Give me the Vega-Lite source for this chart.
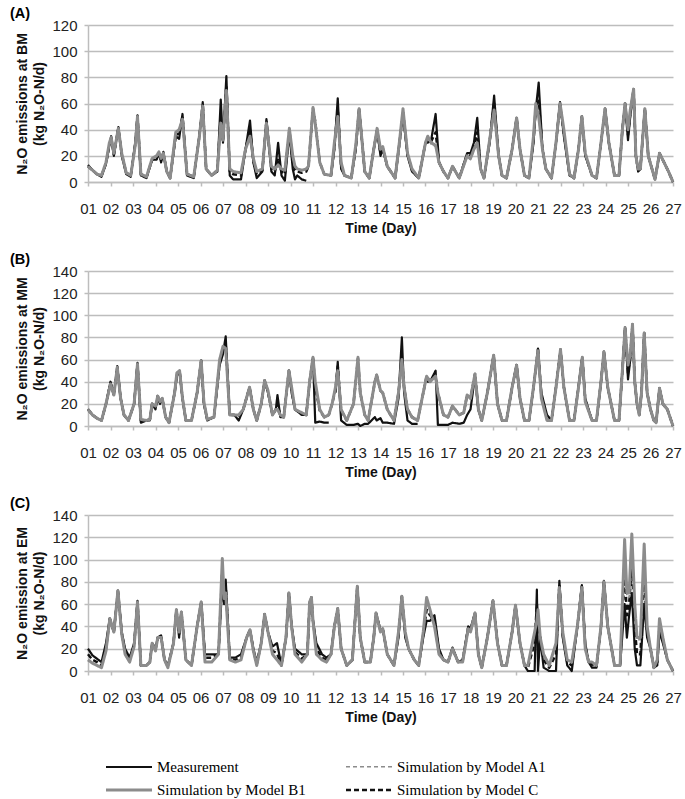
{
  "$schema": "https://vega.github.io/schema/vega-lite/v6.json",
  "background": "white",
  "padding": {"left": 9, "top": 5, "right": 5, "bottom": 5},
  "spacing": 16,
  "config": {
    "font": "Liberation Sans",
    "view": {"stroke": null},
    "title": {"anchor": "start", "frame": "bounds", "fontSize": 14.5, "fontWeight": "bold", "font": "Liberation Sans", "color": "#000", "offset": -3, "dx": -6},
    "axis": {"labelFont": "Liberation Sans", "labelFontSize": 15, "labelColor": "#222", "titleFont": "Liberation Sans", "titleFontSize": 14, "titleFontWeight": "bold", "titleColor": "#111", "gridColor": "#bdbdbd", "gridWidth": 1.5, "domainColor": "#bdbdbd", "domainWidth": 1.5, "tickColor": "#bdbdbd", "tickWidth": 1.5},
    "axisX": {"grid": false, "tickSize": 4, "labelPadding": 15, "titlePadding": 5, "labelAngle": 0, "labelOverlap": false, "labelFlush": false},
    "axisY": {"grid": true, "tickSize": 4, "labelPadding": 7, "titlePadding": 5, "titleLineHeight": 17},
    "legend": {"orient": "none", "legendX": 28, "legendY": 729, "columns": 2, "columnPadding": 35, "rowPadding": 2, "labelOffset": 15, "symbolType": "M-2,0H2", "symbolSize": 529, "labelFont": "Liberation Serif", "labelFontSize": 15, "labelColor": "#000", "title": null}
  },
  "datasets": {
    "A": [
      {"t":1.0,"M":13,"A1":12,"B1":12,"C":12},{"t":1.2,"M":9,"A1":9,"B1":9,"C":9},{"t":1.4,"M":6,"A1":6,"B1":6,"C":6},{"t":1.6,"M":4,"A1":5,"B1":5,"C":5},{"t":1.8,"M":14,"A1":15,"B1":15,"C":14},{"t":1.95,"M":28,"A1":29,"B1":30,"C":28},{"t":2.03,"M":35,"A1":33,"B1":34,"C":34},{"t":2.15,"M":20,"A1":21,"B1":22,"C":21},{"t":2.35,"M":42,"A1":40,"B1":41,"C":41},{"t":2.5,"M":20,"A1":21,"B1":22,"C":21},{"t":2.7,"M":6,"A1":7,"B1":7,"C":7},{"t":2.9,"M":4,"A1":5,"B1":5,"C":5},
      {"t":3.1,"M":30,"A1":27,"B1":28,"C":29},{"t":3.2,"M":51,"A1":49,"B1":50,"C":50},{"t":3.35,"M":5,"A1":6,"B1":6,"C":6},{"t":3.6,"M":3,"A1":4,"B1":4,"C":4},{"t":3.85,"M":17,"A1":17,"B1":18,"C":17},{"t":4.05,"M":17,"A1":19,"B1":20,"C":19},{"t":4.15,"M":22,"A1":22,"B1":23,"C":22},{"t":4.25,"M":15,"A1":17,"B1":18,"C":17},{"t":4.35,"M":23,"A1":21,"B1":22,"C":22},{"t":4.5,"M":8,"A1":8,"B1":8,"C":8},{"t":4.65,"M":3,"A1":3,"B1":3,"C":3},
      {"t":4.9,"M":35,"A1":37,"B1":38,"C":36},{"t":5.05,"M":33,"A1":39,"B1":40,"C":37},{"t":5.2,"M":52,"A1":47,"B1":48,"C":50},{"t":5.4,"M":5,"A1":6,"B1":6,"C":6},{"t":5.7,"M":3,"A1":4,"B1":4,"C":4},{"t":5.95,"M":35,"A1":34,"B1":35,"C":35},{"t":6.1,"M":61,"A1":56,"B1":58,"C":59},{"t":6.25,"M":10,"A1":10,"B1":10,"C":10},{"t":6.5,"M":5,"A1":5,"B1":5,"C":5},{"t":6.75,"M":8,"A1":9,"B1":9,"C":9},
      {"t":6.9,"M":63,"A1":44,"B1":45,"C":50},{"t":7.0,"M":30,"A1":31,"B1":32,"C":31},{"t":7.15,"M":81,"A1":68,"B1":70,"C":74},{"t":7.3,"M":5,"A1":10,"B1":10,"C":8},{"t":7.45,"M":2,"A1":8,"B1":8,"C":6},{"t":7.8,"M":2,"A1":7,"B1":7,"C":5},{"t":8.0,"M":25,"A1":24,"B1":25,"C":25},{"t":8.2,"M":47,"A1":34,"B1":35,"C":40},{"t":8.35,"M":15,"A1":17,"B1":18,"C":16},{"t":8.5,"M":3,"A1":8,"B1":8,"C":6},
      {"t":8.75,"M":8,"A1":10,"B1":10,"C":9},{"t":8.93,"M":48,"A1":44,"B1":45,"C":46},{"t":9.15,"M":8,"A1":12,"B1":12,"C":10},{"t":9.3,"M":5,"A1":10,"B1":10,"C":8},{"t":9.45,"M":30,"A1":13,"B1":13,"C":18},{"t":9.6,"M":5,"A1":10,"B1":10,"C":8},{"t":9.75,"M":1,"A1":9,"B1":9,"C":6},{"t":9.95,"M":38,"A1":40,"B1":41,"C":40},{"t":10.1,"M":10,"A1":19,"B1":20,"C":15},{"t":10.2,"M":2,"A1":12,"B1":12,"C":9},{"t":10.3,"M":5,"A1":10,"B1":10,"C":8},{"t":10.5,"M":2,"A1":9,"B1":9,"C":7},{"t":10.7,"M":1,"A1":10,"B1":10,"C":8},
      {"t":10.8,"M":null,"A1":12,"B1":12,"C":12},{"t":11.0,"M":null,"A1":55,"B1":57,"C":56},{"t":11.1,"M":null,"A1":44,"B1":45,"C":46},{"t":11.3,"M":null,"A1":15,"B1":15,"C":15},{"t":11.5,"M":null,"A1":6,"B1":6,"C":6},{"t":11.8,"M":5,"A1":5,"B1":5,"C":5},{"t":11.95,"M":25,"A1":29,"B1":30,"C":27},{"t":12.1,"M":64,"A1":49,"B1":50,"C":56},{"t":12.25,"M":10,"A1":15,"B1":15,"C":12},{"t":12.4,"M":5,"A1":5,"B1":5,"C":5},{"t":12.7,"M":3,"A1":3,"B1":3,"C":3},
      {"t":12.9,"M":25,"A1":27,"B1":28,"C":26},{"t":13.05,"M":56,"A1":54,"B1":56,"C":56},{"t":13.3,"M":8,"A1":8,"B1":8,"C":8},{"t":13.5,"M":3,"A1":3,"B1":3,"C":3},{"t":13.7,"M":25,"A1":24,"B1":25,"C":25},{"t":13.85,"M":40,"A1":40,"B1":41,"C":40},{"t":14.0,"M":20,"A1":24,"B1":25,"C":22},{"t":14.1,"M":25,"A1":26,"B1":27,"C":26},{"t":14.3,"M":12,"A1":12,"B1":12,"C":12},{"t":14.65,"M":3,"A1":3,"B1":3,"C":3},
      {"t":14.85,"M":30,"A1":31,"B1":32,"C":31},{"t":15.0,"M":52,"A1":54,"B1":56,"C":54},{"t":15.2,"M":20,"A1":21,"B1":22,"C":21},{"t":15.4,"M":8,"A1":10,"B1":10,"C":9},{"t":15.7,"M":3,"A1":3,"B1":3,"C":3},{"t":16.0,"M":30,"A1":29,"B1":30,"C":30},{"t":16.1,"M":30,"A1":34,"B1":35,"C":32},{"t":16.25,"M":32,"A1":29,"B1":30,"C":31},{"t":16.45,"M":52,"A1":27,"B1":28,"C":38},{"t":16.6,"M":15,"A1":15,"B1":15,"C":15},{"t":16.8,"M":8,"A1":8,"B1":8,"C":8},
      {"t":17.0,"M":3,"A1":3,"B1":3,"C":3},{"t":17.2,"M":12,"A1":11,"B1":12,"C":12},{"t":17.5,"M":3,"A1":3,"B1":3,"C":3},{"t":17.85,"M":22,"A1":19,"B1":20,"C":21},{"t":18.0,"M":22,"A1":17,"B1":18,"C":20},{"t":18.15,"M":30,"A1":24,"B1":25,"C":27},{"t":18.3,"M":49,"A1":29,"B1":30,"C":38},{"t":18.45,"M":10,"A1":10,"B1":10,"C":10},{"t":18.6,"M":3,"A1":3,"B1":3,"C":3},
      {"t":18.85,"M":30,"A1":31,"B1":32,"C":31},{"t":19.05,"M":66,"A1":53,"B1":55,"C":60},{"t":19.25,"M":20,"A1":20,"B1":20,"C":20},{"t":19.4,"M":5,"A1":5,"B1":5,"C":5},{"t":19.6,"M":3,"A1":3,"B1":3,"C":3},{"t":19.85,"M":25,"A1":24,"B1":25,"C":25},{"t":20.05,"M":49,"A1":47,"B1":49,"C":49},{"t":20.2,"M":25,"A1":24,"B1":25,"C":25},{"t":20.4,"M":5,"A1":5,"B1":5,"C":5},{"t":20.6,"M":3,"A1":3,"B1":3,"C":3},
      {"t":20.8,"M":30,"A1":34,"B1":35,"C":32},{"t":20.9,"M":55,"A1":58,"B1":60,"C":57},{"t":21.03,"M":76,"A1":49,"B1":50,"C":62},{"t":21.2,"M":25,"A1":25,"B1":25,"C":25},{"t":21.35,"M":10,"A1":10,"B1":10,"C":10},{"t":21.6,"M":3,"A1":3,"B1":3,"C":3},{"t":21.8,"M":30,"A1":29,"B1":30,"C":30},{"t":21.98,"M":61,"A1":58,"B1":60,"C":60},{"t":22.15,"M":35,"A1":39,"B1":40,"C":37},{"t":22.4,"M":5,"A1":6,"B1":6,"C":6},{"t":22.6,"M":3,"A1":3,"B1":3,"C":3},
      {"t":22.8,"M":25,"A1":24,"B1":25,"C":25},{"t":22.95,"M":50,"A1":48,"B1":50,"C":50},{"t":23.1,"M":20,"A1":21,"B1":22,"C":21},{"t":23.4,"M":5,"A1":5,"B1":5,"C":5},{"t":23.6,"M":3,"A1":3,"B1":3,"C":3},{"t":23.8,"M":30,"A1":29,"B1":30,"C":30},{"t":23.98,"M":56,"A1":54,"B1":56,"C":56},{"t":24.15,"M":30,"A1":29,"B1":30,"C":30},{"t":24.4,"M":5,"A1":5,"B1":5,"C":5},{"t":24.6,"M":5,"A1":5,"B1":5,"C":5},
      {"t":24.75,"M":40,"A1":39,"B1":40,"C":40},{"t":24.87,"M":60,"A1":58,"B1":60,"C":60},{"t":25.0,"M":32,"A1":39,"B1":40,"C":36},{"t":25.1,"M":50,"A1":54,"B1":55,"C":52},{"t":25.25,"M":71,"A1":69,"B1":71,"C":71},{"t":25.35,"M":20,"A1":20,"B1":20,"C":20},{"t":25.45,"M":8,"A1":10,"B1":10,"C":9},{"t":25.55,"M":10,"A1":10,"B1":10,"C":10},{"t":25.75,"M":56,"A1":54,"B1":56,"C":56},{"t":25.9,"M":20,"A1":20,"B1":20,"C":20},
      {"t":26.1,"M":8,"A1":8,"B1":8,"C":8},{"t":26.2,"M":2,"A1":2,"B1":2,"C":2},{"t":26.4,"M":22,"A1":21,"B1":22,"C":22},{"t":26.6,"M":15,"A1":15,"B1":15,"C":15},{"t":26.8,"M":8,"A1":8,"B1":8,"C":8},{"t":27.0,"M":0,"A1":0,"B1":0,"C":0}
    ],
    "B": [
      {"t":1.0,"M":15,"A1":15,"B1":15,"C":15},{"t":1.2,"M":10,"A1":10,"B1":10,"C":10},{"t":1.4,"M":7,"A1":7,"B1":7,"C":7},{"t":1.6,"M":5,"A1":5,"B1":5,"C":5},{"t":1.8,"M":20,"A1":19,"B1":20,"C":20},{"t":2.0,"M":40,"A1":37,"B1":38,"C":39},{"t":2.15,"M":28,"A1":28,"B1":28,"C":28},{"t":2.3,"M":54,"A1":52,"B1":53,"C":53},{"t":2.45,"M":25,"A1":25,"B1":25,"C":25},{"t":2.6,"M":10,"A1":10,"B1":10,"C":10},{"t":2.8,"M":5,"A1":5,"B1":5,"C":5},
      {"t":3.05,"M":20,"A1":20,"B1":20,"C":20},{"t":3.2,"M":57,"A1":55,"B1":56,"C":56},{"t":3.35,"M":3,"A1":6,"B1":6,"C":5},{"t":3.6,"M":5,"A1":5,"B1":5,"C":5},{"t":3.75,"M":5,"A1":6,"B1":6,"C":6},{"t":3.85,"M":20,"A1":20,"B1":20,"C":20},{"t":4.0,"M":15,"A1":18,"B1":18,"C":17},{"t":4.1,"M":27,"A1":26,"B1":27,"C":27},{"t":4.2,"M":20,"A1":22,"B1":22,"C":21},{"t":4.3,"M":25,"A1":24,"B1":25,"C":25},{"t":4.45,"M":8,"A1":8,"B1":8,"C":8},{"t":4.6,"M":3,"A1":3,"B1":3,"C":3},
      {"t":4.85,"M":30,"A1":30,"B1":30,"C":30},{"t":4.95,"M":45,"A1":47,"B1":48,"C":46},{"t":5.07,"M":50,"A1":49,"B1":50,"C":50},{"t":5.2,"M":25,"A1":25,"B1":25,"C":25},{"t":5.35,"M":5,"A1":5,"B1":5,"C":5},{"t":5.6,"M":5,"A1":5,"B1":5,"C":5},{"t":5.85,"M":30,"A1":30,"B1":30,"C":30},{"t":6.03,"M":59,"A1":57,"B1":59,"C":59},{"t":6.15,"M":20,"A1":22,"B1":22,"C":21},{"t":6.3,"M":5,"A1":6,"B1":6,"C":6},{"t":6.6,"M":8,"A1":8,"B1":8,"C":8},
      {"t":6.85,"M":55,"A1":58,"B1":60,"C":57},{"t":7.0,"M":65,"A1":70,"B1":72,"C":68},{"t":7.12,"M":81,"A1":68,"B1":70,"C":74},{"t":7.3,"M":10,"A1":10,"B1":10,"C":10},{"t":7.5,"M":10,"A1":10,"B1":10,"C":10},{"t":7.7,"M":5,"A1":10,"B1":10,"C":8},{"t":7.9,"M":15,"A1":15,"B1":15,"C":15},{"t":8.18,"M":35,"A1":34,"B1":35,"C":35},{"t":8.35,"M":15,"A1":15,"B1":15,"C":15},{"t":8.5,"M":5,"A1":5,"B1":5,"C":5},
      {"t":8.7,"M":20,"A1":20,"B1":20,"C":20},{"t":8.85,"M":41,"A1":40,"B1":41,"C":41},{"t":9.0,"M":30,"A1":31,"B1":32,"C":31},{"t":9.2,"M":10,"A1":10,"B1":10,"C":10},{"t":9.35,"M":15,"A1":15,"B1":15,"C":15},{"t":9.42,"M":28,"A1":15,"B1":15,"C":20},{"t":9.55,"M":8,"A1":10,"B1":10,"C":9},{"t":9.7,"M":8,"A1":8,"B1":8,"C":8},{"t":9.93,"M":50,"A1":48,"B1":50,"C":50},{"t":10.05,"M":30,"A1":34,"B1":35,"C":32},{"t":10.2,"M":15,"A1":15,"B1":15,"C":15},{"t":10.5,"M":10,"A1":12,"B1":12,"C":11},{"t":10.7,"M":10,"A1":10,"B1":10,"C":10},
      {"t":10.85,"M":40,"A1":39,"B1":40,"C":40},{"t":11.0,"M":62,"A1":60,"B1":62,"C":62},{"t":11.1,"M":3,"A1":38,"B1":40,"C":35},{"t":11.3,"M":4,"A1":15,"B1":15,"C":14},{"t":11.5,"M":3,"A1":8,"B1":8,"C":8},{"t":11.7,"M":3,"A1":10,"B1":10,"C":10},{"t":11.85,"M":null,"A1":20,"B1":20,"C":20},{"t":12.0,"M":30,"A1":34,"B1":35,"C":33},{"t":12.1,"M":58,"A1":49,"B1":50,"C":54},{"t":12.25,"M":5,"A1":15,"B1":15,"C":14},{"t":12.5,"M":1,"A1":5,"B1":5,"C":5},
      {"t":12.8,"M":1,"A1":20,"B1":20,"C":20},{"t":13.0,"M":2,"A1":60,"B1":62,"C":61},{"t":13.1,"M":0,"A1":30,"B1":30,"C":30},{"t":13.3,"M":2,"A1":10,"B1":10,"C":10},{"t":13.45,"M":2,"A1":5,"B1":5,"C":5},{"t":13.75,"M":8,"A1":39,"B1":40,"C":40},{"t":13.83,"M":5,"A1":45,"B1":46,"C":46},{"t":14.0,"M":7,"A1":31,"B1":32,"C":32},{"t":14.1,"M":3,"A1":29,"B1":30,"C":30},{"t":14.3,"M":3,"A1":15,"B1":15,"C":15},{"t":14.6,"M":2,"A1":5,"B1":5,"C":5},
      {"t":14.8,"M":25,"A1":30,"B1":30,"C":30},{"t":14.95,"M":80,"A1":58,"B1":60,"C":60},{"t":15.05,"M":30,"A1":34,"B1":35,"C":35},{"t":15.2,"M":5,"A1":15,"B1":15,"C":15},{"t":15.4,"M":2,"A1":8,"B1":8,"C":8},{"t":15.65,"M":2,"A1":5,"B1":5,"C":5},{"t":15.8,"M":null,"A1":20,"B1":20,"C":20},{"t":16.05,"M":40,"A1":44,"B1":45,"C":45},{"t":16.2,"M":40,"A1":40,"B1":40,"C":40},{"t":16.45,"M":50,"A1":44,"B1":45,"C":45},{"t":16.55,"M":1,"A1":30,"B1":30,"C":30},
      {"t":16.8,"M":1,"A1":10,"B1":10,"C":10},{"t":17.0,"M":1,"A1":8,"B1":8,"C":8},{"t":17.2,"M":3,"A1":17,"B1":18,"C":18},{"t":17.5,"M":2,"A1":10,"B1":10,"C":10},{"t":17.7,"M":3,"A1":12,"B1":12,"C":12},{"t":17.85,"M":10,"A1":27,"B1":28,"C":28},{"t":18.0,"M":15,"A1":25,"B1":25,"C":25},{"t":18.2,"M":45,"A1":46,"B1":47,"C":47},{"t":18.35,"M":15,"A1":15,"B1":15,"C":15},{"t":18.5,"M":5,"A1":5,"B1":5,"C":5},
      {"t":18.75,"M":30,"A1":30,"B1":30,"C":30},{"t":19.03,"M":64,"A1":62,"B1":64,"C":64},{"t":19.2,"M":20,"A1":20,"B1":20,"C":20},{"t":19.4,"M":5,"A1":5,"B1":5,"C":5},{"t":19.6,"M":5,"A1":5,"B1":5,"C":5},{"t":19.85,"M":35,"A1":35,"B1":35,"C":35},{"t":20.05,"M":55,"A1":53,"B1":55,"C":55},{"t":20.2,"M":25,"A1":25,"B1":25,"C":25},{"t":20.4,"M":5,"A1":5,"B1":5,"C":5},{"t":20.6,"M":5,"A1":5,"B1":5,"C":5},
      {"t":20.8,"M":35,"A1":35,"B1":35,"C":35},{"t":21.0,"M":70,"A1":66,"B1":68,"C":69},{"t":21.15,"M":30,"A1":25,"B1":25,"C":27},{"t":21.4,"M":10,"A1":5,"B1":5,"C":7},{"t":21.6,"M":5,"A1":5,"B1":5,"C":5},{"t":21.8,"M":35,"A1":35,"B1":35,"C":35},{"t":22.0,"M":69,"A1":67,"B1":69,"C":69},{"t":22.15,"M":35,"A1":35,"B1":35,"C":35},{"t":22.4,"M":5,"A1":5,"B1":5,"C":5},{"t":22.6,"M":5,"A1":5,"B1":5,"C":5},
      {"t":22.8,"M":35,"A1":35,"B1":35,"C":35},{"t":22.97,"M":62,"A1":60,"B1":62,"C":62},{"t":23.1,"M":25,"A1":22,"B1":22,"C":23},{"t":23.4,"M":5,"A1":5,"B1":5,"C":5},{"t":23.6,"M":5,"A1":5,"B1":5,"C":5},{"t":23.8,"M":40,"A1":40,"B1":40,"C":40},{"t":23.93,"M":67,"A1":65,"B1":67,"C":67},{"t":24.1,"M":35,"A1":35,"B1":35,"C":35},{"t":24.4,"M":5,"A1":5,"B1":5,"C":5},{"t":24.6,"M":5,"A1":5,"B1":5,"C":5},
      {"t":24.75,"M":50,"A1":50,"B1":50,"C":50},{"t":24.87,"M":89,"A1":86,"B1":89,"C":89},{"t":25.0,"M":42,"A1":54,"B1":55,"C":48},{"t":25.1,"M":60,"A1":64,"B1":65,"C":62},{"t":25.2,"M":92,"A1":90,"B1":92,"C":92},{"t":25.3,"M":40,"A1":40,"B1":40,"C":40},{"t":25.4,"M":20,"A1":20,"B1":20,"C":20},{"t":25.5,"M":10,"A1":10,"B1":10,"C":10},{"t":25.6,"M":30,"A1":30,"B1":30,"C":30},{"t":25.72,"M":84,"A1":82,"B1":84,"C":84},{"t":25.85,"M":30,"A1":30,"B1":30,"C":30},
      {"t":26.0,"M":15,"A1":15,"B1":15,"C":15},{"t":26.15,"M":5,"A1":5,"B1":5,"C":5},{"t":26.25,"M":3,"A1":3,"B1":3,"C":3},{"t":26.4,"M":34,"A1":33,"B1":34,"C":34},{"t":26.55,"M":20,"A1":20,"B1":20,"C":20},{"t":26.75,"M":15,"A1":15,"B1":15,"C":15},{"t":27.0,"M":0,"A1":0,"B1":0,"C":0}
    ],
    "C": [
      {"t":1.0,"M":20,"A1":10,"B1":10,"C":15},{"t":1.2,"M":14,"A1":7,"B1":7,"C":10},{"t":1.4,"M":11,"A1":5,"B1":5,"C":8},{"t":1.6,"M":8,"A1":3,"B1":3,"C":5},{"t":1.8,"M":25,"A1":18,"B1":18,"C":20},{"t":1.97,"M":47,"A1":45,"B1":47,"C":47},{"t":2.15,"M":35,"A1":35,"B1":35,"C":35},{"t":2.33,"M":72,"A1":70,"B1":72,"C":72},{"t":2.5,"M":35,"A1":33,"B1":33,"C":34},{"t":2.65,"M":20,"A1":15,"B1":15,"C":17},{"t":2.85,"M":12,"A1":8,"B1":8,"C":10},
      {"t":3.05,"M":25,"A1":22,"B1":22,"C":23},{"t":3.2,"M":63,"A1":60,"B1":62,"C":62},{"t":3.35,"M":5,"A1":5,"B1":5,"C":5},{"t":3.6,"M":5,"A1":5,"B1":5,"C":5},{"t":3.75,"M":8,"A1":8,"B1":8,"C":8},{"t":3.85,"M":25,"A1":25,"B1":25,"C":25},{"t":4.0,"M":20,"A1":18,"B1":18,"C":19},{"t":4.1,"M":30,"A1":30,"B1":30,"C":30},{"t":4.25,"M":32,"A1":30,"B1":30,"C":31},{"t":4.4,"M":10,"A1":10,"B1":10,"C":10},{"t":4.55,"M":5,"A1":3,"B1":3,"C":4},
      {"t":4.8,"M":25,"A1":25,"B1":25,"C":25},{"t":4.93,"M":55,"A1":53,"B1":55,"C":55},{"t":5.05,"M":30,"A1":35,"B1":35,"C":33},{"t":5.15,"M":53,"A1":51,"B1":53,"C":53},{"t":5.35,"M":10,"A1":10,"B1":10,"C":10},{"t":5.6,"M":5,"A1":5,"B1":5,"C":5},{"t":5.85,"M":40,"A1":40,"B1":40,"C":40},{"t":6.03,"M":62,"A1":60,"B1":62,"C":62},{"t":6.2,"M":15,"A1":8,"B1":8,"C":12},{"t":6.5,"M":15,"A1":8,"B1":8,"C":12},{"t":6.8,"M":15,"A1":15,"B1":15,"C":15},
      {"t":6.97,"M":80,"A1":98,"B1":101,"C":92},{"t":7.05,"M":60,"A1":64,"B1":65,"C":62},{"t":7.12,"M":82,"A1":68,"B1":70,"C":76},{"t":7.3,"M":12,"A1":10,"B1":10,"C":11},{"t":7.55,"M":12,"A1":8,"B1":8,"C":10},{"t":7.8,"M":15,"A1":10,"B1":10,"C":12},{"t":8.05,"M":30,"A1":30,"B1":30,"C":30},{"t":8.2,"M":37,"A1":36,"B1":37,"C":37},{"t":8.35,"M":20,"A1":18,"B1":18,"C":19},{"t":8.5,"M":8,"A1":5,"B1":5,"C":6},
      {"t":8.7,"M":25,"A1":25,"B1":25,"C":25},{"t":8.85,"M":51,"A1":49,"B1":51,"C":51},{"t":9.0,"M":35,"A1":35,"B1":35,"C":35},{"t":9.2,"M":22,"A1":15,"B1":15,"C":18},{"t":9.4,"M":25,"A1":10,"B1":10,"C":16},{"t":9.6,"M":5,"A1":5,"B1":5,"C":5},{"t":9.8,"M":30,"A1":30,"B1":30,"C":30},{"t":9.93,"M":70,"A1":68,"B1":70,"C":70},{"t":10.05,"M":40,"A1":40,"B1":40,"C":40},{"t":10.2,"M":20,"A1":15,"B1":15,"C":17},{"t":10.5,"M":15,"A1":8,"B1":8,"C":11},
      {"t":10.75,"M":15,"A1":15,"B1":15,"C":15},{"t":10.85,"M":60,"A1":60,"B1":62,"C":61},{"t":10.93,"M":66,"A1":64,"B1":66,"C":66},{"t":11.0,"M":45,"A1":45,"B1":45,"C":45},{"t":11.15,"M":25,"A1":15,"B1":15,"C":20},{"t":11.4,"M":15,"A1":10,"B1":10,"C":12},{"t":11.6,"M":12,"A1":8,"B1":8,"C":10},{"t":11.8,"M":15,"A1":15,"B1":15,"C":15},{"t":11.95,"M":40,"A1":40,"B1":40,"C":40},{"t":12.1,"M":55,"A1":54,"B1":56,"C":56},{"t":12.25,"M":20,"A1":20,"B1":20,"C":20},{"t":12.5,"M":5,"A1":5,"B1":5,"C":5},
      {"t":12.75,"M":10,"A1":10,"B1":10,"C":10},{"t":12.97,"M":76,"A1":74,"B1":76,"C":76},{"t":13.1,"M":30,"A1":30,"B1":30,"C":30},{"t":13.3,"M":8,"A1":8,"B1":8,"C":8},{"t":13.55,"M":8,"A1":8,"B1":8,"C":8},{"t":13.7,"M":30,"A1":30,"B1":30,"C":30},{"t":13.8,"M":52,"A1":50,"B1":52,"C":52},{"t":14.0,"M":37,"A1":35,"B1":35,"C":36},{"t":14.1,"M":38,"A1":37,"B1":38,"C":38},{"t":14.3,"M":15,"A1":15,"B1":15,"C":15},{"t":14.6,"M":5,"A1":5,"B1":5,"C":5},
      {"t":14.8,"M":30,"A1":34,"B1":35,"C":33},{"t":14.95,"M":67,"A1":65,"B1":67,"C":67},{"t":15.1,"M":30,"A1":34,"B1":35,"C":33},{"t":15.25,"M":20,"A1":20,"B1":20,"C":20},{"t":15.5,"M":10,"A1":10,"B1":10,"C":10},{"t":15.7,"M":5,"A1":5,"B1":5,"C":5},{"t":15.9,"M":30,"A1":34,"B1":35,"C":33},{"t":16.05,"M":45,"A1":63,"B1":66,"C":55},{"t":16.2,"M":45,"A1":53,"B1":55,"C":50},{"t":16.4,"M":50,"A1":40,"B1":40,"C":45},{"t":16.6,"M":20,"A1":15,"B1":15,"C":17},{"t":16.8,"M":10,"A1":10,"B1":10,"C":10},
      {"t":17.0,"M":8,"A1":8,"B1":8,"C":8},{"t":17.2,"M":21,"A1":20,"B1":20,"C":20},{"t":17.45,"M":8,"A1":8,"B1":8,"C":8},{"t":17.65,"M":10,"A1":8,"B1":8,"C":9},{"t":17.9,"M":40,"A1":37,"B1":38,"C":39},{"t":18.0,"M":38,"A1":34,"B1":35,"C":36},{"t":18.2,"M":52,"A1":50,"B1":52,"C":52},{"t":18.35,"M":15,"A1":15,"B1":15,"C":15},{"t":18.5,"M":3,"A1":3,"B1":3,"C":3},
      {"t":18.75,"M":30,"A1":30,"B1":30,"C":30},{"t":19.0,"M":63,"A1":61,"B1":63,"C":63},{"t":19.2,"M":25,"A1":25,"B1":25,"C":25},{"t":19.4,"M":5,"A1":5,"B1":5,"C":5},{"t":19.6,"M":5,"A1":5,"B1":5,"C":5},{"t":19.85,"M":35,"A1":35,"B1":35,"C":35},{"t":20.0,"M":59,"A1":57,"B1":59,"C":59},{"t":20.2,"M":25,"A1":25,"B1":25,"C":25},{"t":20.4,"M":5,"A1":5,"B1":5,"C":5},
      {"t":20.55,"M":0,"A1":5,"B1":5,"C":3},{"t":20.85,"M":0,"A1":34,"B1":35,"C":25},{"t":20.95,"M":73,"A1":44,"B1":45,"C":60},{"t":21.0,"M":0,"A1":54,"B1":55,"C":40},{"t":21.1,"M":30,"A1":30,"B1":30,"C":30},{"t":21.25,"M":3,"A1":15,"B1":15,"C":10},{"t":21.5,"M":0,"A1":5,"B1":5,"C":3},{"t":21.8,"M":0,"A1":25,"B1":25,"C":15},{"t":21.95,"M":81,"A1":73,"B1":75,"C":78},{"t":22.1,"M":30,"A1":35,"B1":35,"C":32},{"t":22.3,"M":5,"A1":10,"B1":10,"C":8},{"t":22.5,"M":0,"A1":8,"B1":8,"C":5},
      {"t":22.75,"M":40,"A1":40,"B1":40,"C":40},{"t":22.95,"M":77,"A1":73,"B1":75,"C":76},{"t":23.1,"M":25,"A1":20,"B1":20,"C":22},{"t":23.25,"M":8,"A1":8,"B1":8,"C":8},{"t":23.4,"M":3,"A1":8,"B1":8,"C":6},{"t":23.6,"M":3,"A1":5,"B1":5,"C":4},{"t":23.8,"M":40,"A1":40,"B1":40,"C":40},{"t":23.93,"M":81,"A1":78,"B1":80,"C":80},{"t":24.1,"M":40,"A1":40,"B1":40,"C":40},{"t":24.4,"M":5,"A1":5,"B1":5,"C":5},{"t":24.65,"M":5,"A1":5,"B1":5,"C":5},
      {"t":24.85,"M":60,"A1":112,"B1":118,"C":90},{"t":24.95,"M":30,"A1":66,"B1":70,"C":50},{"t":25.05,"M":50,"A1":66,"B1":70,"C":60},{"t":25.17,"M":70,"A1":118,"B1":123,"C":95},{"t":25.3,"M":20,"A1":58,"B1":60,"C":40},{"t":25.4,"M":5,"A1":28,"B1":30,"C":15},{"t":25.55,"M":5,"A1":28,"B1":30,"C":15},{"t":25.72,"M":60,"A1":110,"B1":114,"C":85},{"t":25.85,"M":30,"A1":40,"B1":40,"C":35},{"t":26.0,"M":20,"A1":20,"B1":20,"C":20},
      {"t":26.15,"M":3,"A1":3,"B1":3,"C":3},{"t":26.3,"M":5,"A1":10,"B1":10,"C":8},{"t":26.4,"M":35,"A1":45,"B1":47,"C":40},{"t":26.55,"M":25,"A1":30,"B1":30,"C":28},{"t":26.75,"M":10,"A1":10,"B1":10,"C":10},{"t":27.0,"M":0,"A1":0,"B1":0,"C":0}
    ]
  },
  "vconcat": [
    {
      "title": {"text": "(A)"},
      "width": 585, "height": 157,
      "data": {"name": "A"},
      "transform": [{"fold": ["C", "A1", "M", "B1"], "as": ["series", "value"]}],
      "mark": {"type": "line", "invalid": "break-paths-show-domains", "strokeJoin": "round"},
      "encoding": {
        "x": {"field": "t", "type": "quantitative", "scale": {"domain": [1, 27], "nice": false, "zero": false},
              "axis": {"title": "Time (Day)", "values": [1,2,3,4,5,6,7,8,9,10,11,12,13,14,15,16,17,18,19,20,21,22,23,24,25,26,27], "labelExpr": "datum.value < 10 ? '0' + datum.value : '' + datum.value"}},
        "y": {"field": "value", "type": "quantitative", "scale": {"domain": [0, 120], "nice": false},
              "axis": {"title": ["N₂O emissions at BM", "(kg N₂O-N/d)"], "values": [0,20,40,60,80,100,120]}},
        "color": {"field": "series", "type": "nominal", "scale": {"domain": ["M", "B1", "A1", "C"], "range": ["#111111", "#8c8c8c", "#8c8c8c", "#111111"]},
                  "legend": {"labelExpr": "datum.label == 'M' ? 'Measurement' : datum.label == 'A1' ? 'Simulation by Model A1' : datum.label == 'B1' ? 'Simulation by Model B1' : 'Simulation by Model C'"}},
        "strokeDash": {"field": "series", "type": "nominal", "scale": {"domain": ["M", "B1", "A1", "C"], "range": [[1, 0], [1, 0], [4, 3], [5, 3]]},
                  "legend": {"labelExpr": "datum.label == 'M' ? 'Measurement' : datum.label == 'A1' ? 'Simulation by Model A1' : datum.label == 'B1' ? 'Simulation by Model B1' : 'Simulation by Model C'"}},
        "strokeWidth": {"field": "series", "type": "nominal", "scale": {"type": "ordinal", "domain": ["M", "B1", "A1", "C"], "range": [2.2, 3, 1.5, 2.5]},
                  "legend": {"labelExpr": "datum.label == 'M' ? 'Measurement' : datum.label == 'A1' ? 'Simulation by Model A1' : datum.label == 'B1' ? 'Simulation by Model B1' : 'Simulation by Model C'"}}
      }
    },
    {
      "title": {"text": "(B)"},
      "width": 585, "height": 155,
      "data": {"name": "B"},
      "transform": [{"fold": ["C", "A1", "M", "B1"], "as": ["series", "value"]}],
      "mark": {"type": "line", "invalid": "break-paths-show-domains", "strokeJoin": "round"},
      "encoding": {
        "x": {"field": "t", "type": "quantitative", "scale": {"domain": [1, 27], "nice": false, "zero": false},
              "axis": {"title": "Time (Day)", "values": [1,2,3,4,5,6,7,8,9,10,11,12,13,14,15,16,17,18,19,20,21,22,23,24,25,26,27], "labelExpr": "datum.value < 10 ? '0' + datum.value : '' + datum.value"}},
        "y": {"field": "value", "type": "quantitative", "scale": {"domain": [0, 140], "nice": false},
              "axis": {"title": ["N₂O emissions at MM", "(kg N₂O-N/d)"], "values": [0,20,40,60,80,100,120,140]}},
        "color": {"field": "series", "type": "nominal", "scale": {"domain": ["M", "B1", "A1", "C"], "range": ["#111111", "#8c8c8c", "#8c8c8c", "#111111"]}},
        "strokeDash": {"field": "series", "type": "nominal", "scale": {"domain": ["M", "B1", "A1", "C"], "range": [[1, 0], [1, 0], [4, 3], [5, 3]]}},
        "strokeWidth": {"field": "series", "type": "nominal", "scale": {"type": "ordinal", "domain": ["M", "B1", "A1", "C"], "range": [2.2, 3, 1.5, 2.5]}}
      }
    },
    {
      "title": {"text": "(C)"},
      "width": 585, "height": 156,
      "data": {"name": "C"},
      "transform": [{"fold": ["C", "A1", "M", "B1"], "as": ["series", "value"]}],
      "mark": {"type": "line", "invalid": "break-paths-show-domains", "strokeJoin": "round"},
      "encoding": {
        "x": {"field": "t", "type": "quantitative", "scale": {"domain": [1, 27], "nice": false, "zero": false},
              "axis": {"title": "Time (Day)", "values": [1,2,3,4,5,6,7,8,9,10,11,12,13,14,15,16,17,18,19,20,21,22,23,24,25,26,27], "labelExpr": "datum.value < 10 ? '0' + datum.value : '' + datum.value"}},
        "y": {"field": "value", "type": "quantitative", "scale": {"domain": [0, 140], "nice": false},
              "axis": {"title": ["N₂O emission at EM", "(kg N₂O-N/d)"], "values": [0,20,40,60,80,100,120,140]}},
        "color": {"field": "series", "type": "nominal", "scale": {"domain": ["M", "B1", "A1", "C"], "range": ["#111111", "#8c8c8c", "#8c8c8c", "#111111"]}},
        "strokeDash": {"field": "series", "type": "nominal", "scale": {"domain": ["M", "B1", "A1", "C"], "range": [[1, 0], [1, 0], [4, 3], [5, 3]]}},
        "strokeWidth": {"field": "series", "type": "nominal", "scale": {"type": "ordinal", "domain": ["M", "B1", "A1", "C"], "range": [2.2, 3, 1.5, 2.5]}}
      }
    }
  ]
}
